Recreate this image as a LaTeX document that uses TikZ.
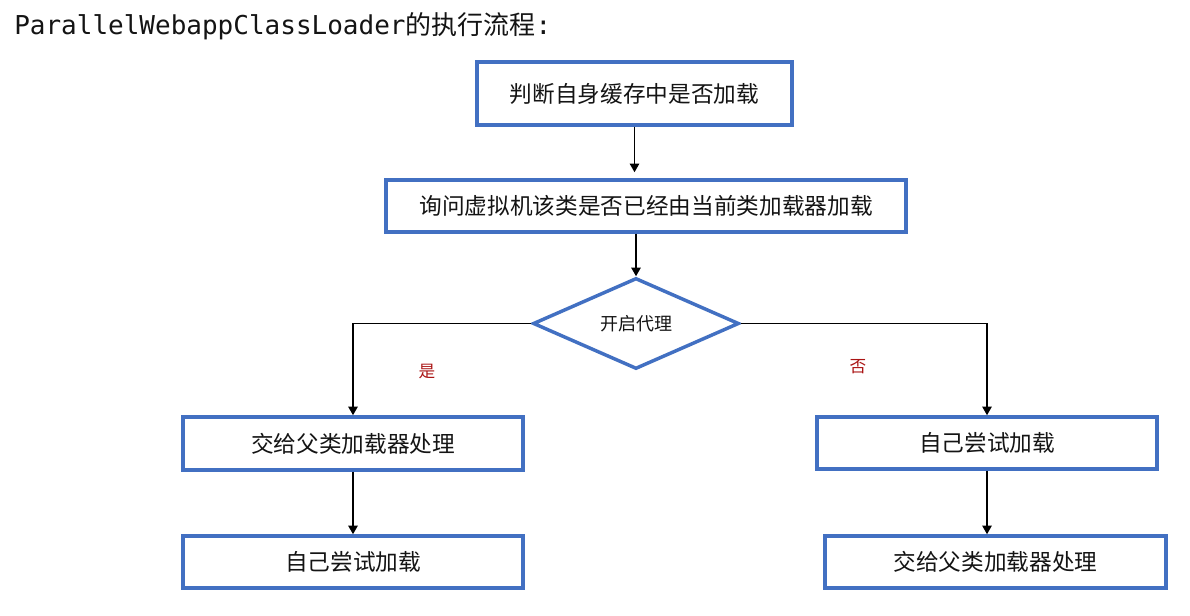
\documentclass[tikz,border=0pt]{standalone}
\usepackage{fontspec}
\setmainfont{Noto Sans CJK SC}
\newfontfamily\monofont{DejaVu Sans Mono}
\usetikzlibrary{shapes.geometric,arrows.meta}
\definecolor{boxblue}{RGB}{66,112,194}
\definecolor{labelred}{RGB}{170,20,20}
\definecolor{inkblack}{RGB}{20,20,20}
\begin{document}
\begin{tikzpicture}[x=0.75pt,y=-0.75pt,
  stepbox/.style={draw=boxblue,line width=2.6pt,fill=white,rectangle,inner sep=0pt,
    text=inkblack,font=\fontsize{17}{20}\selectfont},
  decision/.style={draw=boxblue,line width=2.6pt,fill=white,diamond,inner sep=0pt,
    text=inkblack,font=\fontsize{13.5}{16}\selectfont},
  flow/.style={draw=black,line width=1.3pt,-{Triangle[width=7pt,length=6.5pt]}},
  yesno/.style={text=labelred,font=\fontsize{12.5}{15}\selectfont}]

% canvas
\fill[white] (0,0) rectangle (1190,616);
\useasboundingbox (0,0) rectangle (1190,616);

% heading
\node[anchor=west,inner sep=0pt,text=inkblack,font=\fontsize{19.5}{22}\selectfont] (title) at (14,26)
  {{\monofont ParallelWebappClassLoader}的执行流程{\monofont :}};

% process steps
\node[stepbox,minimum width=236.25pt,minimum height=47.25pt] (b1) at (634.5,93.5) {判断自身缓存中是否加载};
\node[stepbox,minimum width=390pt,minimum height=39pt] (b2) at (646,206) {询问虚拟机该类是否已经由当前类加载器加载};
\node[decision,minimum width=154.5pt,minimum height=68.25pt] (d) at (636,323.5) {开启代理};

\node[stepbox,minimum width=255pt,minimum height=39.75pt] (l1) at (353,443.5) {交给父类加载器处理};
\node[stepbox,minimum width=255pt,minimum height=39pt] (l2) at (353,562) {自己尝试加载};
\node[stepbox,minimum width=255pt,minimum height=39pt] (r1) at (987,443) {自己尝试加载};
\node[stepbox,minimum width=255.75pt,minimum height=39pt] (r2) at (995.5,562) {交给父类加载器处理};

% branch labels
\node[yesno] (yes) at (427,372) {是};
\node[yesno] (no) at (858,367) {否};

% connectors
\draw[flow,shorten >=4.5pt] (b1.south) -- (b1.south |- b2.north);
\draw[flow] (b2.south -| d.north) -- (d.north);
\draw[flow] (d.west) -| (l1.north);
\draw[flow] (d.east) -| (r1.north);
\draw[flow] (l1.south) -- (l2.north);
\draw[flow] (r1.south) -- (r1.south |- r2.north);
\end{tikzpicture}
\end{document}
